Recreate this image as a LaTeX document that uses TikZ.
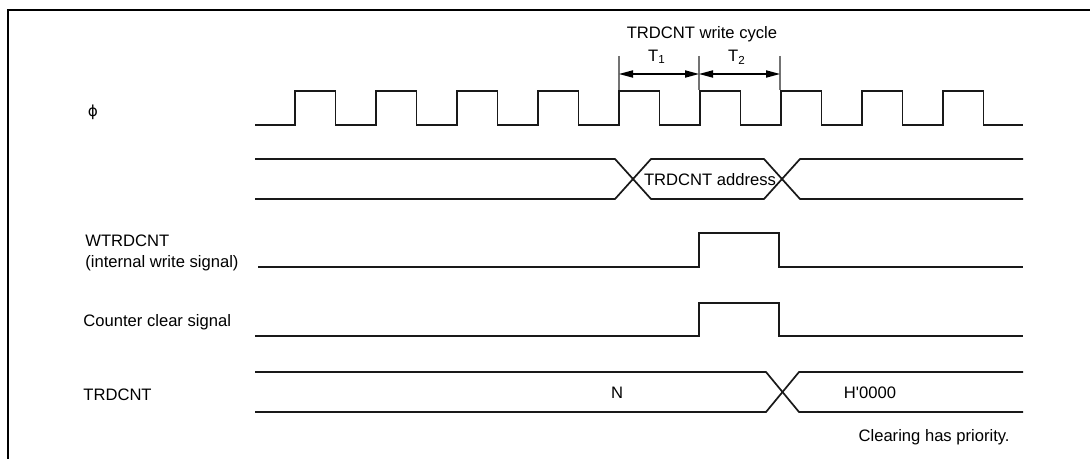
\documentclass[tikz,border=0pt]{standalone}
\usepackage{fontspec}
\setmainfont{Liberation Sans}
\newfontfamily\symfont{DejaVu Sans}
\usetikzlibrary{arrows.meta}

\begin{document}
\begin{tikzpicture}[x=0.5pt,y=-0.5pt,line cap=butt,line join=miter,>={Triangle[length=7pt,width=3.6pt]},
  every node/.style={inner sep=0pt,font=\fontsize{8.3}{10.5}\selectfont},
  sig/.style={line width=0.85pt,black!90}]
  \useasboundingbox (0,0) rectangle (1090,459);
  \def\per{81}
  \def\hi{40.5}
  % frame
  \draw[line width=1.1pt] (8,459) -- (8,10) -- (1090,10);
  % labels
  \node (phi) at (93,112) {\symfont\fontsize{7.6}{9}\selectfont ϕ};
  \node[anchor=west,align=left] (wlab) at (85,252.5) {WTRDCNT\\(internal write signal)};
  \node[anchor=west] (clab) at (83,322) {Counter clear signal};
  \node[anchor=west] (tlab) at (83,395) {TRDCNT};
  % clock
  \draw[sig] (255,125) \foreach \k in {0,...,8}{
      -- ({295+\per*\k},125) -- ({295+\per*\k},91) -- ({295+\hi+\per*\k},91) -- ({295+\hi+\per*\k},125)}
    -- (1023,125);
  % write cycle
  \coordinate (ta) at (619,74);
  \coordinate (tb) at (699,74);
  \coordinate (tc) at (780,74);
  \foreach \c in {ta,tb,tc}
    \draw[line width=0.6pt,black!55] ([yshift=9]\c) -- ([yshift=-8]\c);
  \draw[<->,line width=0.6pt] (ta) -- (tb);
  \draw[<->,line width=0.6pt] (tb) -- (tc);
  \node (t1) at (657,57) {T\textsubscript{1}};
  \node (t2) at (737,57) {T\textsubscript{2}};
  \node (wc) at (702,34) {TRDCNT write cycle};
  % address bus
  \draw[sig] (255,159) -- (615,159) -- (651,199) -- (764,199) -- (800,159) -- (1023,159);
  \draw[sig] (255,199) -- (615,199) -- (651,159) -- (764,159) -- (800,199) -- (1023,199);
  \node (addr) at (710,180) {TRDCNT address};
  % write signal and counter clear
  \draw[sig] (258,267) -- (699,267) -- (699,233) -- (779,233) -- (779,267) -- (1023,267);
  \draw[sig] (255,336) -- (699,336) -- (699,303) -- (779,303) -- (779,336) -- (1023,336);
  % counter
  \draw[sig] (255,372) -- (766,372) -- (799,412) -- (1023,412);
  \draw[sig] (255,412) -- (766,412) -- (799,372) -- (1023,372);
  \node (n) at (617,393) {N};
  \node (h0) at (870,393) {H\textquotesingle 0000};
  \node[anchor=east] (note) at (1010,437) {Clearing has priority.};
\end{tikzpicture}
\end{document}
